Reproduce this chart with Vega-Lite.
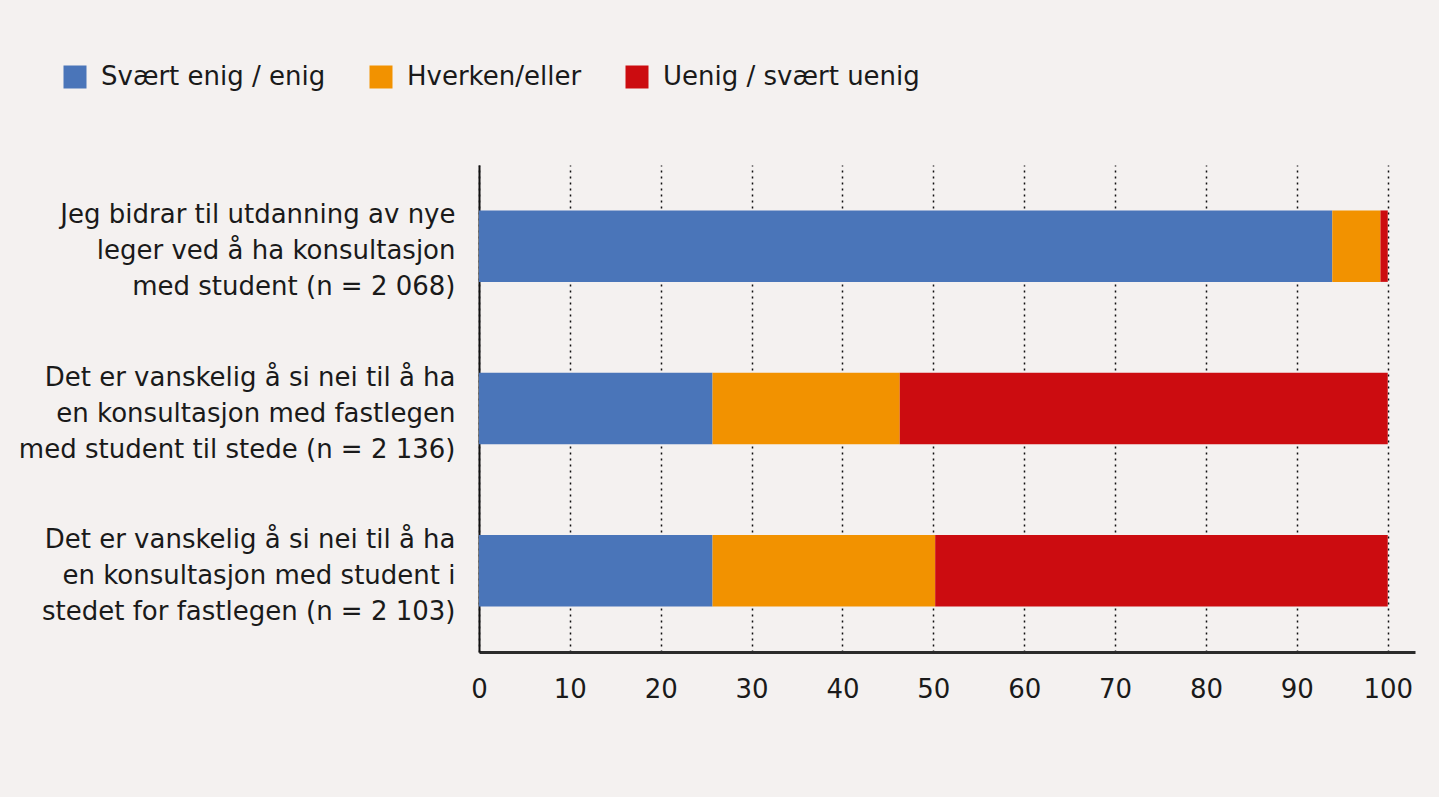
{
  "$schema": "https://vega.github.io/schema/vega-lite/v6.json",
  "autosize": {"type": "none"},
  "padding": {"left": 479, "top": 165, "right": 24, "bottom": 145},
  "width": 936,
  "height": 487,
  "background": "#f4f1f0",
  "config": {
    "view": {"stroke": null},
    "font": "DejaVu Sans",
    "axis": {"labelFont": "DejaVu Sans", "labelColor": "#1a1a1a"},
    "legend": {"labelFont": "DejaVu Sans"}
  },
  "data": {
    "values": [
      {"sporsmal": "Jeg bidrar til utdanning av nye|leger ved å ha konsultasjon|med student (n = 2 068)", "svar": "Svært enig / enig", "prosent": 93.9},
      {"sporsmal": "Jeg bidrar til utdanning av nye|leger ved å ha konsultasjon|med student (n = 2 068)", "svar": "Hverken/eller", "prosent": 5.3},
      {"sporsmal": "Jeg bidrar til utdanning av nye|leger ved å ha konsultasjon|med student (n = 2 068)", "svar": "Uenig / svært uenig", "prosent": 0.8},
      {"sporsmal": "Det er vanskelig å si nei til å ha|en konsultasjon med fastlegen|med student til stede (n = 2 136)", "svar": "Svært enig / enig", "prosent": 25.7},
      {"sporsmal": "Det er vanskelig å si nei til å ha|en konsultasjon med fastlegen|med student til stede (n = 2 136)", "svar": "Hverken/eller", "prosent": 20.6},
      {"sporsmal": "Det er vanskelig å si nei til å ha|en konsultasjon med fastlegen|med student til stede (n = 2 136)", "svar": "Uenig / svært uenig", "prosent": 53.7},
      {"sporsmal": "Det er vanskelig å si nei til å ha|en konsultasjon med student i|stedet for fastlegen (n = 2 103)", "svar": "Svært enig / enig", "prosent": 25.7},
      {"sporsmal": "Det er vanskelig å si nei til å ha|en konsultasjon med student i|stedet for fastlegen (n = 2 103)", "svar": "Hverken/eller", "prosent": 24.5},
      {"sporsmal": "Det er vanskelig å si nei til å ha|en konsultasjon med student i|stedet for fastlegen (n = 2 103)", "svar": "Uenig / svært uenig", "prosent": 49.8}
    ]
  },
  "transform": [
    {"calculate": "datum.svar === 'Svært enig / enig' ? 0 : (datum.svar === 'Hverken/eller' ? 1 : 2)", "as": "rekkefolge"}
  ],
  "mark": {"type": "bar"},
  "encoding": {
    "y": {
      "field": "sporsmal",
      "type": "nominal",
      "sort": null,
      "title": null,
      "scale": {"paddingInner": 0.56, "paddingOuter": 0.28},
      "axis": {
        "labelExpr": "split(datum.value, '|')",
        "labelFontSize": 26,
        "labelLineHeight": 36,
        "labelPadding": 24,
        "labelOffset": -31,
        "labelLimit": 0,
        "ticks": false,
        "domainColor": "#111111",
        "domainWidth": 2,
        "grid": false
      }
    },
    "x": {
      "field": "prosent",
      "type": "quantitative",
      "stack": "zero",
      "title": null,
      "scale": {"domain": [0, 103], "nice": false, "zero": true},
      "axis": {
        "values": [0, 10, 20, 30, 40, 50, 60, 70, 80, 90, 100],
        "labelFontSize": 26,
        "labelPadding": 24,
        "ticks": false,
        "domainColor": "#2b2b2b",
        "domainWidth": 3,
        "grid": true,
        "gridColor": "#111111",
        "gridDash": [2, 4],
        "gridWidth": 1.5,
        "labelFlush": false
      }
    },
    "order": {"field": "rekkefolge", "type": "quantitative", "sort": "ascending"},
    "color": {
      "field": "svar",
      "type": "nominal",
      "sort": ["Svært enig / enig", "Hverken/eller", "Uenig / svært uenig"],
      "scale": {
        "domain": ["Svært enig / enig", "Hverken/eller", "Uenig / svært uenig"],
        "range": ["#4a75b9", "#f29200", "#cc0c10"]
      },
      "legend": {
        "title": null,
        "orient": "none",
        "direction": "horizontal",
        "legendX": -417,
        "legendY": -101,
        "symbolType": "square",
        "symbolSize": 529,
        "symbolStrokeWidth": 0,
        "labelFontSize": 26,
        "labelOffset": 13,
        "labelLimit": 0,
        "columnPadding": 42,
        "labelColor": "#1a1a1a"
      }
    }
  }
}
